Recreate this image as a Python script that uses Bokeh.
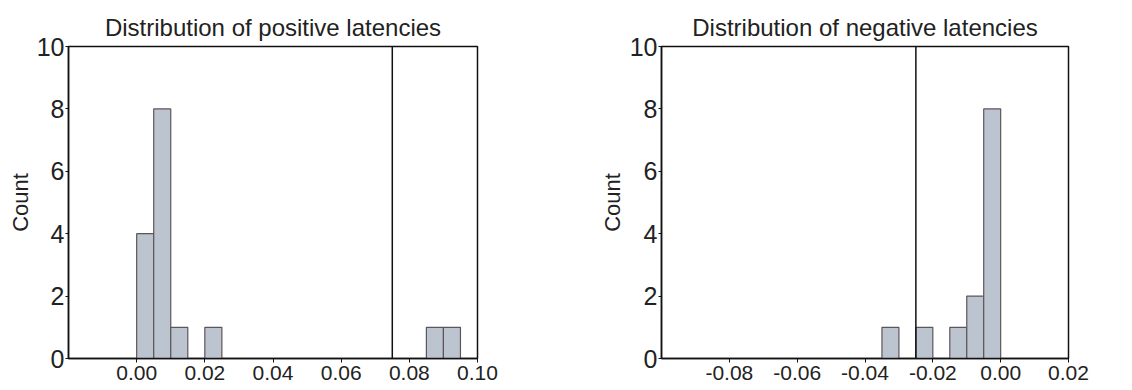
from bokeh.plotting import figure
from bokeh.layouts import row
from bokeh.models import Span, FixedTicker, NumeralTickFormatter, Range1d
from bokeh.embed import file_html
from bokeh.resources import INLINE

# ---- data ----
bin_width = 0.005
pos_bin_left = [0.000, 0.005, 0.010, 0.020, 0.085, 0.090]
pos_counts = [4, 8, 1, 1, 1, 1]
pos_threshold = 0.075
pos_xticks = [0.00, 0.02, 0.04, 0.06, 0.08, 0.10]

neg_bin_left = [-0.035, -0.025, -0.015, -0.010, -0.005]
neg_counts = [1, 1, 1, 2, 8]
neg_threshold = -0.025
neg_xticks = [-0.08, -0.06, -0.04, -0.02, 0.00, 0.02]

yticks = [0, 2, 4, 6, 8, 10]

FONT = "Liberation Sans"
TXT = "#222222"
FILL = "#bcc4cf"
EDGE = "#5e5558"


def make(title, lefts, counts, thr, xticks, xr, width, mbl, mbr, mbt, lab_standoff):
    p = figure(width=width, height=390, output_backend="svg", toolbar_location=None,
               x_range=Range1d(*xr), y_range=Range1d(0, 10),
               min_border_left=mbl, min_border_right=mbr, min_border_top=mbt,
               min_border_bottom=32, title=title)
    p.quad(left=lefts, right=[l + bin_width for l in lefts], bottom=0, top=counts,
           fill_color=FILL, line_color=EDGE, line_width=1.2)
    p.add_layout(Span(location=thr, dimension="height", line_color="#111111", line_width=1.5))
    p.xgrid.visible = False
    p.ygrid.visible = False
    p.outline_line_color = "#111111"
    p.outline_line_width = 1.5
    p.outline_line_alpha = 1.0
    p.background_fill_color = "white"
    p.border_fill_color = "white"

    p.title.text_font = FONT
    p.title.text_font_size = "24px"
    p.title.text_font_style = "normal"
    p.title.text_color = TXT
    p.title.align = "center"
    p.title.standoff = 12

    xa = p.xaxis[0]
    xa.ticker = FixedTicker(ticks=xticks)
    xa.formatter = NumeralTickFormatter(format="0.00")
    xa.major_label_text_font = FONT
    xa.major_label_text_font_size = "21px"
    xa.major_label_text_color = TXT
    xa.axis_line_color = "#111111"
    xa.axis_line_width = 1.5
    xa.major_tick_line_color = "#111111"
    xa.major_tick_out = 4
    xa.major_tick_in = 0
    xa.minor_tick_line_color = None
    xa.major_label_standoff = 3

    ya = p.yaxis[0]
    ya.ticker = FixedTicker(ticks=yticks)
    ya.major_label_text_font = FONT
    ya.major_label_text_font_size = "25px"
    ya.major_label_text_color = TXT
    ya.axis_line_color = "#111111"
    ya.axis_line_width = 1.5
    ya.major_tick_line_color = "#111111"
    ya.major_tick_out = 3
    ya.major_tick_in = 0
    ya.minor_tick_line_color = None
    ya.major_label_standoff = 1
    ya.axis_label = "Count"
    ya.axis_label_text_font = FONT
    ya.axis_label_text_font_size = "22px"
    ya.axis_label_text_font_style = "normal"
    ya.axis_label_text_color = TXT
    ya.axis_label_standoff = lab_standoff
    return p


p1 = make("Distribution of positive latencies", pos_bin_left, pos_counts, pos_threshold,
          pos_xticks, (-0.02, 0.10), 566, 68, 89, 42, 1)
p2 = make("Distribution of negative latencies", neg_bin_left, neg_counts, neg_threshold,
          neg_xticks, (-0.10, 0.02), 566, 95, 64, 46, 2)

layout = row(p1, p2)
open("out.html", "w").write(file_html(layout, INLINE))
